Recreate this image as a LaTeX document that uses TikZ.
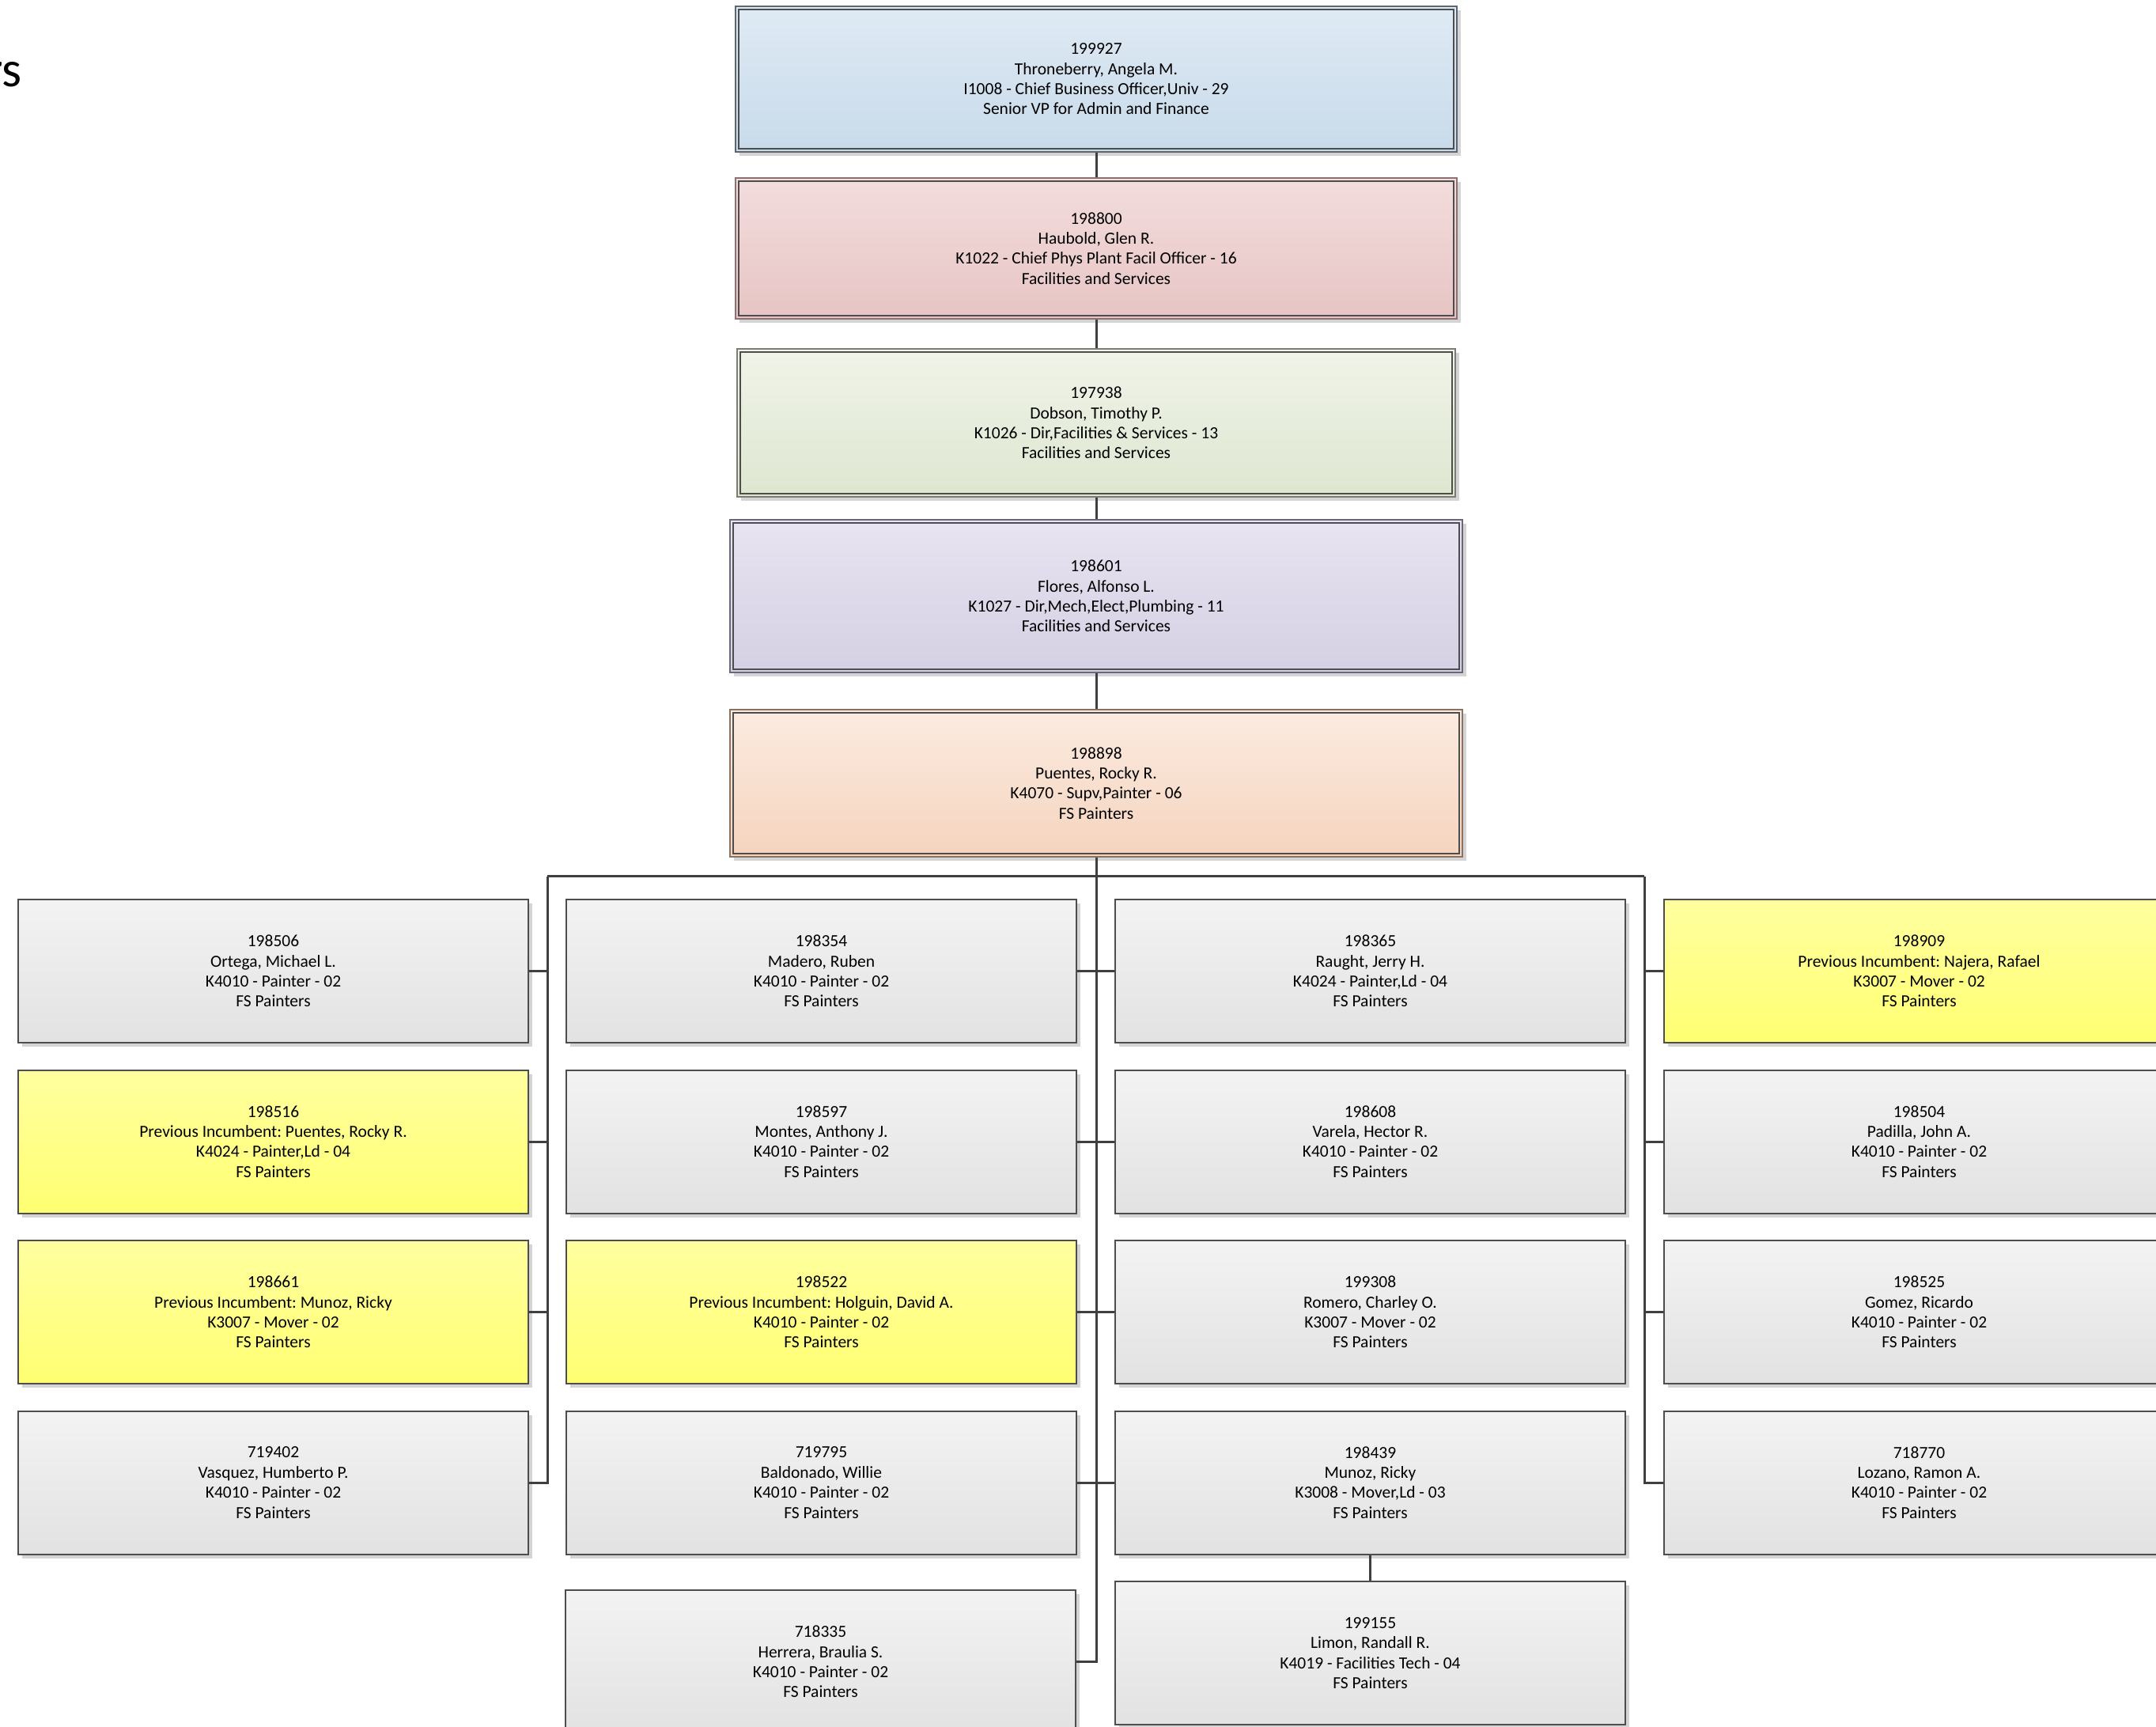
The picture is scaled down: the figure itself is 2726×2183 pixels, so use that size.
\documentclass[tikz,border=0pt]{standalone}
\usepackage{fontspec}
\setmainfont{Carlito}
\frenchspacing
\usetikzlibrary{shadows}
\definecolor{bordc}{HTML}{4D4D4D}
\definecolor{connc}{HTML}{3F3F3F}
\definecolor{greyT}{HTML}{F3F3F3}
\definecolor{greyB}{HTML}{E2E2E2}
\definecolor{yelT}{HTML}{FFFFA0}
\definecolor{yelB}{HTML}{FFFF72}
\definecolor{bluT}{HTML}{DFEAF4}
\definecolor{bluB}{HTML}{C8DAEA}
\definecolor{bluO}{HTML}{5C6670}
\definecolor{pnkT}{HTML}{F3DDDD}
\definecolor{pnkB}{HTML}{E7C4C4}
\definecolor{pnkO}{HTML}{8E7070}
\definecolor{grnT}{HTML}{F0F4E9}
\definecolor{grnB}{HTML}{DEE6D0}
\definecolor{grnO}{HTML}{7A7E70}
\definecolor{purT}{HTML}{E8E4F1}
\definecolor{purB}{HTML}{D5CFE3}
\definecolor{purO}{HTML}{6C6679}
\definecolor{pchT}{HTML}{FBEBE0}
\definecolor{pchB}{HTML}{F5D4BE}
\definecolor{pchO}{HTML}{8A7262}
\newcommand\orgtxt{\fontsize{21.5}{25.4}\selectfont\frenchspacing}
\tikzset{
  card/.style={draw=bordc, line width=2pt, inner sep=0pt, align=center,
    font=\orgtxt, text=black,
    drop shadow={shadow xshift=5pt, shadow yshift=-5pt, fill=black!17, opacity=1}},
  greycard/.style={card, minimum width=645pt, minimum height=181pt,
    top color=greyT, bottom color=greyB},
  yelcard/.style={card, minimum width=645pt, minimum height=181pt,
    top color=yelT, bottom color=yelB},
  headcard/.style={card, line width=2pt},
  innerb/.style={draw=bordc, line width=2pt},
  conn/.style={draw=connc, line width=3pt},
}
\begin{document}
\begin{tikzpicture}[x=1pt, y=-1pt]
\useasboundingbox (0,0) rectangle (2726,2183);
\node[anchor=base east, inner sep=0pt, font=\fontsize{64}{70}\selectfont] (ttl) at (28,110) {rs};

% top chain
\node[headcard, draw=bluO, minimum width=912pt, minimum height=184pt, top color=bluT, bottom color=bluB] (b1) at (1386,100)
 {199927\\Throneberry, Angela M.\\I1008 - Chief Business Officer,Univ - 29\\Senior VP for Admin and Finance};
\node[headcard, draw=pnkO, minimum width=912pt, minimum height=178pt, top color=pnkT, bottom color=pnkB] (b2) at (1386,314)
 {198800\\Haubold, Glen R.\\K1022 - Chief Phys Plant Facil Officer - 16\\Facilities and Services};
\node[headcard, draw=grnO, minimum width=908pt, minimum height=187pt, top color=grnT, bottom color=grnB] (b3) at (1386,534.5)
 {197938\\Dobson, Timothy P.\\K1026 - Dir,Facilities \& Services - 13\\Facilities and Services};
\node[headcard, draw=purO, minimum width=926pt, minimum height=193pt, top color=purT, bottom color=purB] (b4) at (1386,753.5)
 {198601\\Flores, Alfonso L.\\K1027 - Dir,Mech,Elect,Plumbing - 11\\Facilities and Services};
\node[headcard, draw=pchO, minimum width=926pt, minimum height=186pt, top color=pchT, bottom color=pchB] (b5) at (1386,990)
 {198898\\Puentes, Rocky R.\\K4070 - Supv,Painter - 06\\FS Painters};
\foreach \b in {b1,b2,b3,b4,b5}{
  \draw[innerb] ([shift={(5,5)}]\b.north west) rectangle ([shift={(-5,-5)}]\b.south east);
}

% column 1
\node[greycard] (c1r1) at (345.5,1227.5) {198506\\Ortega, Michael L.\\K4010 - Painter - 02\\FS Painters};
\node[yelcard]  (c1r2) at (345.5,1443)   {198516\\Previous Incumbent: Puentes, Rocky R.\\K4024 - Painter,Ld - 04\\FS Painters};
\node[yelcard]  (c1r3) at (345.5,1658.5) {198661\\Previous Incumbent: Munoz, Ricky\\K3007 - Mover - 02\\FS Painters};
\node[greycard] (c1r4) at (345.5,1874)   {719402\\Vasquez, Humberto P.\\K4010 - Painter - 02\\FS Painters};
% column 2
\node[greycard] (c2r1) at (1038.5,1227.5) {198354\\Madero, Ruben\\K4010 - Painter - 02\\FS Painters};
\node[greycard] (c2r2) at (1038.5,1443)   {198597\\Montes, Anthony J.\\K4010 - Painter - 02\\FS Painters};
\node[yelcard]  (c2r3) at (1038.5,1658.5) {198522\\Previous Incumbent: Holguin, David A.\\K4010 - Painter - 02\\FS Painters};
\node[greycard] (c2r4) at (1038.5,1874)   {719795\\Baldonado, Willie\\K4010 - Painter - 02\\FS Painters};
\node[greycard] (c2r5) at (1037.5,2100.5) {718335\\Herrera, Braulia S.\\K4010 - Painter - 02\\FS Painters};
% column 3
\node[greycard] (c3r1) at (1732.5,1227.5) {198365\\Raught, Jerry H.\\K4024 - Painter,Ld - 04\\FS Painters};
\node[greycard] (c3r2) at (1732.5,1443)   {198608\\Varela, Hector R.\\K4010 - Painter - 02\\FS Painters};
\node[greycard] (c3r3) at (1732.5,1658.5) {199308\\Romero, Charley O.\\K3007 - Mover - 02\\FS Painters};
\node[greycard] (c3r4) at (1732.5,1874)   {198439\\Munoz, Ricky\\K3008 - Mover,Ld - 03\\FS Painters};
\node[greycard] (c3r5) at (1732.5,2089.5) {199155\\Limon, Randall R.\\K4019 - Facilities Tech - 04\\FS Painters};
% column 4
\node[yelcard]  (c4r1) at (2426.5,1227.5) {198909\\Previous Incumbent: Najera, Rafael\\K3007 - Mover - 02\\FS Painters};
\node[greycard] (c4r2) at (2426.5,1443)   {198504\\Padilla, John A.\\K4010 - Painter - 02\\FS Painters};
\node[greycard] (c4r3) at (2426.5,1658.5) {198525\\Gomez, Ricardo\\K4010 - Painter - 02\\FS Painters};
\node[greycard] (c4r4) at (2426.5,1874)   {718770\\Lozano, Ramon A.\\K4010 - Painter - 02\\FS Painters};

% connectors
\coordinate (bus) at (1386,1107.5);
\coordinate (busL) at (692,1107.5);
\coordinate (busR) at (2079,1107.5);
\draw[conn] (b1.south) -- (b2.north);
\draw[conn] (b2.south) -- (b3.north);
\draw[conn] (b3.south) -- (b4.north);
\draw[conn] (b4.south) -- (b5.north);
\draw[conn] (b5.south) -- (bus);
\draw[conn] (busL) -- (busR);
\draw[conn] (busL) |- (c1r4.east);
\draw[conn] (bus) |- (c2r5.east);
\draw[conn] (busR) |- (c4r4.west);
\foreach \r in {1,2,3}{
  \draw[conn] (c1r\r.east) -- (c1r\r.east -| busL);
  \draw[conn] (c4r\r.west) -- (c4r\r.west -| busR);
}
\foreach \r in {1,2,3,4}{
  \draw[conn] (c2r\r.east) -- (c3r\r.west);
}
\draw[conn] (c3r4.south) -- (c3r5.north);
\end{tikzpicture}
\end{document}
